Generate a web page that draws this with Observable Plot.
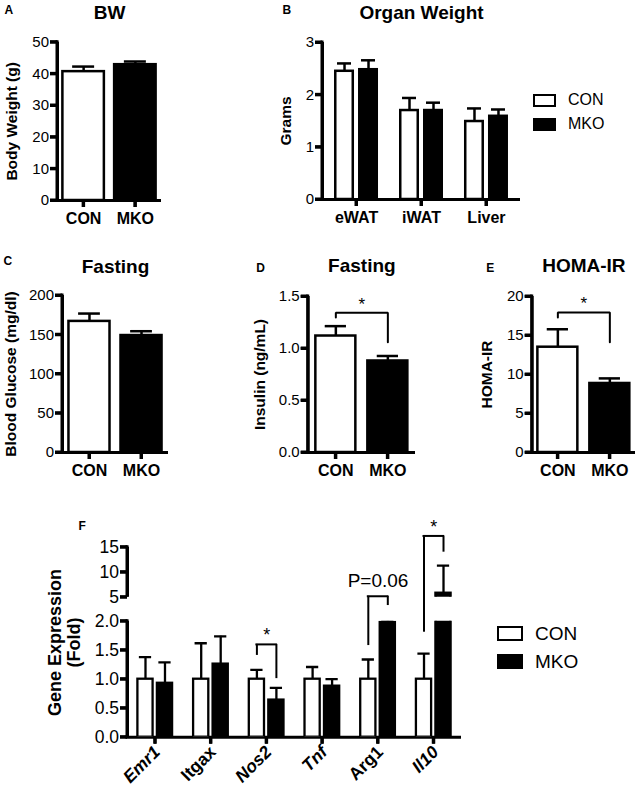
<!DOCTYPE html>
<html><head><meta charset="utf-8">
<script src="https://cdn.jsdelivr.net/npm/d3@7"></script>
<script src="https://cdn.jsdelivr.net/npm/@observablehq/plot@0.6"></script>
<style>
html,body{margin:0;padding:0;background:#fff;overflow:hidden;}
#fig{position:relative;width:641px;height:800px;font-family:"Liberation Sans",Arial,sans-serif;color:#000;}
#fig > svg{position:absolute;left:0;top:0;}
.lrow{position:absolute;display:flex;align-items:center;white-space:nowrap;}
.lbox{box-sizing:border-box;border:2px solid #000;}
</style></head><body><div id="fig"></div>
<script>
// ---------------- data ----------------
const groups = ["CON", "MKO"];

const bwMean = [40.7, 42.9];
const bwSem = [1.6, 1.0];

const organs = ["eWAT", "iWAT", "Liver"];
const organCON = [2.45, 1.70, 1.49];
const organCONsem = [0.15, 0.24, 0.25];
const organMKO = [2.48, 1.70, 1.59];
const organMKOsem = [0.18, 0.15, 0.13];

const glucoseMean = [167, 149];
const glucoseSem = [10, 5.5];

const insulinMean = [1.12, 0.88];
const insulinSem = [0.095, 0.048];

const homaMean = [13.5, 8.85];
const homaSem = [2.3, 0.65];

const genes = ["Emr1", "Itgax", "Nos2", "Tnf", "Arg1", "Il10"];
const italicGenes = ["Emr1", "Nos2", "Tnf", "Il10"];
const geneCON = [1, 1, 1, 1, 1, 1];
const geneCONsem = [0.38, 0.62, 0.16, 0.21, 0.34, 0.44];
const geneMKO = [0.93, 1.26, 0.64, 0.88, 1.98, 5.8];
const geneMKOsem = [0.36, 0.48, 0.21, 0.12, 0.02, 5.5];

const bwTicks = [0, 10, 20, 30, 40, 50];
const organTicks = [0, 1, 2, 3];
const glucoseTicks = [0, 50, 100, 150, 200];
const insulinTicks = [0, 0.5, 1, 1.5];
const homaTicks = [0, 5, 10, 15, 20];
const geneLowTicks = [0, 0.5, 1, 1.5, 2];
const geneHighTicks = [5, 10, 15];

const insulinBracket = {top: 1.343, leftEnd: 1.298, rightEnd: 1.06, label: "*"};
const homaBracket = {top: 17.95, leftEnd: 17.3, rightEnd: 14.14, label: "*"};
const geneBrackets = [
  {gene: "Nos2", top: 1.60, leftEnd: 1.41, rightEnd: 1.01, label: "*"},
  {gene: "Arg1", top: 2.43, leftEnd: 1.58, rightEnd: 2.27, label: "P=0.06"},
  {gene: "Il10", top: 3.47, leftEnd: 1.81, rightEnd: 3.19, label: "*"}
];

// ---------------- layout / style ----------------
const W = 641, H = 800;
const FONT = '"Liberation Sans", Arial, Helvetica, sans-serif';
const AX_SW = 3, BAR_SW = 2.5, ERR_SW = 2.5, BR_SW = 2, TICK = 7;
const fig = document.getElementById("fig");
const root = document.createElementNS("http://www.w3.org/2000/svg", "svg");
root.setAttribute("width", W);
root.setAttribute("height", H);
root.setAttribute("viewBox", `0 0 ${W} ${H}`);
fig.appendChild(root);

function bandInfo(n, width, pi, po) {
  const step = width / (n - pi + 2 * po);
  return {step, bw: step * (1 - pi), lead: po * step};
}

// axis lines, ticks, tick labels, title and axis title
function commonMarks(o, cats) {
  const [L, R] = o.box;
  const {bw, lead} = bandInfo(cats.length, R - L, o.pi, o.po);
  const [y0, y1] = o.yDomain;
  const axisLine = [{cat: cats[0], lo: y0, hi: y1}];
  const yt = o.yTicks.map((v) => ({cat: cats[0], v}));
  const m = [
    // y-axis line (rule + thin rect drawn at the same place)
    Plot.ruleX(axisLine, {x: "cat", y1: "lo", y2: "hi", dx: -(lead + bw / 2), strokeWidth: AX_SW}),
    Plot.barY(axisLine, {x: "cat", y1: "lo", y2: "hi", fill: "black",
      insetLeft: -(lead + AX_SW / 2), insetRight: bw + lead - AX_SW / 2, insetTop: -AX_SW / 2}),
    // y ticks
    Plot.tickY(yt, {x: "cat", y: "v", strokeWidth: AX_SW, insetLeft: -(lead + TICK), insetRight: bw + lead}),
    Plot.barY(yt, {x: "cat", y1: "v", y2: "v", fill: "black",
      insetLeft: -(lead + TICK), insetRight: bw + lead, insetTop: -AX_SW / 2, insetBottom: -AX_SW / 2}),
    Plot.axisY({ticks: o.yTicks, tickFormat: o.yFormat, tickSize: 0, tickPadding: TICK + 1.5,
      fontSize: o.yFont ?? 15, label: null})
  ];
  if (o.baseline !== false) {
    const xt = cats.map((c) => ({cat: c, v: y0}));
    m.push(Plot.ruleY([y0], {strokeWidth: AX_SW, insetLeft: -AX_SW / 2}));
    m.push(Plot.ruleX(xt, {x: "cat", y1: "v", y2: "v", insetBottom: -TICK, strokeWidth: AX_SW}));
    m.push(Plot.barY(xt, {x: "cat", y1: "v", y2: "v", fill: "black",
      insetLeft: bw / 2 - AX_SW / 2, insetRight: bw / 2 - AX_SW / 2, insetBottom: -TICK}));
  }
  if (o.title) m.push(Plot.text([o.title], {frameAnchor: "top", textAnchor: "middle", lineAnchor: "bottom",
    dy: o.titleDy, fontSize: 19, fontWeight: "bold"}));
  if (o.ylabel) m.push(Plot.text([o.ylabel], {frameAnchor: "left", textAnchor: "middle", lineAnchor: "middle",
    rotate: -90, dx: o.ylabelDx, dy: o.ylabelDy ?? 0,
    fontSize: o.ylabelFont ?? 15.5, fontWeight: "bold", lineHeight: o.ylabelLH ?? 1}));
  return m;
}

function letterMark(o) {
  return Plot.text([o.letter], {frameAnchor: "top-left", textAnchor: "start", lineAnchor: "bottom",
    dx: o.letterDx, dy: o.letterDy, fontSize: 12, fontWeight: "bold"});
}

function xLabels(cats) {
  return Plot.text(cats, {x: (d) => d, frameAnchor: "bottom", textAnchor: "middle", lineAnchor: "top",
    dy: TICK + 5, fontSize: 16, fontWeight: "bold"});
}

function makePlot(o, cats, marks) {
  const [L, R, T, B] = o.box;
  const svg = Plot.plot({
    width: W, height: H,
    marginLeft: L, marginRight: W - R, marginTop: T, marginBottom: H - B,
    style: {fontFamily: FONT, background: "transparent", color: "black"},
    x: {type: "band", domain: cats, paddingInner: o.pi, paddingOuter: o.po, round: false, axis: null, label: null},
    y: {domain: o.yDomain, axis: null, label: null},
    color: {domain: groups, range: ["white", "black"]},
    marks
  });
  svg.setAttribute("x", 0);
  svg.setAttribute("y", 0);
  root.appendChild(svg);
}

function singlePanel(o) {
  const [L, R] = o.box;
  const {bw} = bandInfo(groups.length, R - L, o.pi, o.po);
  const rows = groups.map((g, i) => ({group: g, mean: o.means[i], upper: o.means[i] + o.sems[i]}));
  const capIn = bw / 4;
  makePlot(o, groups, [
    Plot.barY(rows, {x: "group", y: "mean", fill: "group", stroke: "black", strokeWidth: BAR_SW,
      insetLeft: BAR_SW / 2, insetRight: BAR_SW / 2}),
    ...commonMarks(o, groups)
  ]);
  const marks = [
    Plot.ruleX(rows, {x: "group", y1: "mean", y2: "upper", strokeWidth: ERR_SW}),
    Plot.tickY(rows, {x: "group", y: "upper", strokeWidth: ERR_SW, insetLeft: capIn, insetRight: capIn}),
    xLabels(groups),
    letterMark(o)
  ];
  if (o.bracket) {
    const b = o.bracket;
    const pts = [
      {group: groups[0], y: b.leftEnd}, {group: groups[0], y: b.top},
      {group: groups[1], y: b.top}, {group: groups[1], y: b.rightEnd}
    ];
    marks.push(Plot.line(pts, {x: "group", y: "y", strokeWidth: BR_SW, strokeLinejoin: "miter"}));
    marks.push(Plot.text([b], {y: "top", text: "label", frameAnchor: "middle", textAnchor: "middle",
      lineAnchor: "bottom", dy: -3, fontSize: 17}));
  }
  makePlot(o, groups, marks);
}

function groupedMarks(o, cats, conM, conS, mkoM, mkoS, clip) {
  const [L, R] = o.box;
  const {bw} = bandInfo(cats.length, R - L, o.pi, o.po);
  const barW = (bw - o.gap) / 2;
  const off = (barW + o.gap) / 2;
  const capW = 0.7 * barW;
  const con = cats.map((c, i) => ({cat: c, group: groups[0], mean: conM[i], upper: conM[i] + conS[i]}));
  const mko = cats.map((c, i) => ({cat: c, group: groups[1], mean: mkoM[i], upper: mkoM[i] + mkoS[i]}));
  const sw = o.barSW ?? BAR_SW;
  return {bw, off, marks: [
    Plot.barY(con, {x: "cat", y: "mean", fill: "group", stroke: "black", strokeWidth: sw,
      insetLeft: sw / 2, insetRight: barW + o.gap + sw / 2, clip}),
    Plot.barY(mko, {x: "cat", y: "mean", fill: "group", stroke: "black", strokeWidth: sw,
      insetLeft: barW + o.gap + sw / 2, insetRight: sw / 2, clip}),
    Plot.ruleX(con, {x: "cat", y1: "mean", y2: "upper", dx: -off, strokeWidth: sw, clip}),
    Plot.ruleX(mko, {x: "cat", y1: "mean", y2: "upper", dx: off, strokeWidth: sw, clip}),
    Plot.tickY(con, {x: "cat", y: "upper", strokeWidth: sw, clip,
      insetLeft: bw / 2 - off - capW / 2, insetRight: bw / 2 + off - capW / 2}),
    Plot.tickY(mko, {x: "cat", y: "upper", strokeWidth: sw, clip,
      insetLeft: bw / 2 + off - capW / 2, insetRight: bw / 2 - off - capW / 2})
  ]};
}

// ---------------- A ----------------
singlePanel({box: [57, 161, 41.7, 200], yDomain: [0, 50], yTicks: bwTicks, yFormat: "d",
  means: bwMean, sems: bwSem, pi: 0.15, po: 0.08,
  title: "BW", titleDy: -23.4, letter: "A", letterDx: -53, letterDy: -28.4,
  ylabel: "Body Weight (g)", ylabelDx: -45});

// ---------------- B ----------------
{
  const o = {box: [322, 520, 42, 199], yDomain: [0, 3], yTicks: organTicks, yFormat: "d",
    pi: 0.323, po: 0.185, gap: 4,
    title: "Organ Weight", titleDy: -23.7, letter: "B", letterDx: -40, letterDy: -29,
    ylabel: "Grams", ylabelDx: -36};
  makePlot(o, organs, commonMarks(o, organs));
  const g = groupedMarks(o, organs, organCON, organCONsem, organMKO, organMKOsem, false);
  makePlot(o, organs, [...g.marks, xLabels(organs), letterMark(o)]);
}

// ---------------- C ----------------
singlePanel({box: [62, 168, 295, 452], yDomain: [0, 200], yTicks: glucoseTicks, yFormat: "d",
  means: glucoseMean, sems: glucoseSem, pi: 0.163, po: 0.1,
  title: "Fasting", titleDy: -23, letter: "C", letterDx: -59, letterDy: -31,
  ylabel: "Blood Glucose (mg/dl)", ylabelDx: -51});

// ---------------- D ----------------
singlePanel({box: [307.7, 415, 296, 452], yDomain: [0, 1.5], yTicks: insulinTicks, yFormat: ".1f",
  means: insulinMean, sems: insulinSem, pi: 0.183, po: 0.123,
  title: "Fasting", titleDy: -24.3, letter: "D", letterDx: -52, letterDy: -24.3,
  ylabel: "Insulin (ng/mL)", ylabelDx: -48, bracket: insulinBracket});

// ---------------- E ----------------
singlePanel({box: [531.7, 635, 296, 452], yDomain: [0, 20], yTicks: homaTicks, yFormat: "d",
  means: homaMean, sems: homaSem, pi: 0.183, po: 0.085,
  title: "HOMA-IR", titleDy: -24.3, letter: "E", letterDx: -46, letterDy: -24.3,
  ylabel: "HOMA-IR", ylabelDx: -45, bracket: homaBracket});

// ---------------- F (upper segment of the broken axis) ----------------
{
  const o = {box: [127, 461, 546.7, 596.7], yDomain: [5, 15], yTicks: geneHighTicks, yFormat: "d",
    pi: 0.336, po: 0.166, gap: 2, barSW: 2.3, yFont: 17.5, baseline: false,
    letter: "F", letterDx: -49, letterDy: -17.7};
  makePlot(o, genes, commonMarks(o, genes));
  const g = groupedMarks(o, genes, geneCON, geneCONsem, geneMKO, geneMKOsem, true);
  makePlot(o, genes, [...g.marks, letterMark(o)]);
}

// ---------------- F (lower segment) ----------------
{
  const o = {box: [127, 461, 620.7, 736.7], yDomain: [0, 2], yTicks: geneLowTicks, yFormat: ".1f",
    pi: 0.336, po: 0.166, gap: 2, barSW: 2.3, yFont: 17.5,
    ylabel: "Gene Expression\n(Fold)", ylabelDx: -63.5, ylabelDy: -36.7, ylabelFont: 18, ylabelLH: 1.06};
  makePlot(o, genes, commonMarks(o, genes));
  const g = groupedMarks(o, genes, geneCON, geneCONsem, geneMKO, geneMKOsem, true);
  const lab = {x: (d) => d, frameAnchor: "bottom", rotate: -45, textAnchor: "end", lineAnchor: "middle",
    dy: TICK + 5, dx: 2, fontSize: 17.5, fontWeight: "bold"};
  makePlot(o, genes, [
    ...g.marks,
    Plot.text(italicGenes, {...lab, fontStyle: "italic"}),
    Plot.text(genes.filter((d) => !italicGenes.includes(d)), {...lab, fontStyle: "normal"}),
    Plot.tickY(geneBrackets, {x: "gene", y: "top", insetLeft: g.bw / 2 - g.off - 1, insetRight: g.bw / 2 - g.off - 1,
      strokeWidth: BR_SW}),
    Plot.ruleX(geneBrackets, {x: "gene", y1: "top", y2: "leftEnd", dx: -g.off, strokeWidth: BR_SW}),
    Plot.ruleX(geneBrackets, {x: "gene", y1: "top", y2: "rightEnd", dx: g.off, strokeWidth: BR_SW}),
    Plot.text(geneBrackets.filter((d) => d.label === "*"), {x: "gene", y: "top", text: "label",
      textAnchor: "middle", lineAnchor: "bottom", dy: -3, fontSize: 18}),
    Plot.text(geneBrackets.filter((d) => d.label !== "*"), {x: "gene", y: "top", text: "label",
      textAnchor: "middle", lineAnchor: "bottom", dy: -9, fontSize: 19})
  ]);
}

// ---------------- legends (HTML) ----------------
function legend(spec) {
  groups.forEach((g, i) => {
    const row = document.createElement("div");
    row.className = "lrow";
    row.style.left = spec.left + "px";
    row.style.top = spec.tops[i] + "px";
    row.style.height = spec.boxH + "px";
    const box = document.createElement("div");
    box.className = "lbox";
    box.style.width = spec.boxW + "px";
    box.style.height = spec.boxH + "px";
    box.style.background = i === 0 ? "white" : "black";
    const t = document.createElement("span");
    t.textContent = g;
    t.style.fontSize = spec.fontSize + "px";
    t.style.marginLeft = spec.textGap + "px";
    t.style.lineHeight = "1";
    row.appendChild(box);
    row.appendChild(t);
    fig.appendChild(row);
  });
}
legend({left: 533, tops: [93.5, 117.5], boxW: 23, boxH: 13, textGap: 12, fontSize: 16});
legend({left: 497, tops: [626, 654], boxW: 26, boxH: 15, textGap: 12, fontSize: 19});
</script></body></html>
